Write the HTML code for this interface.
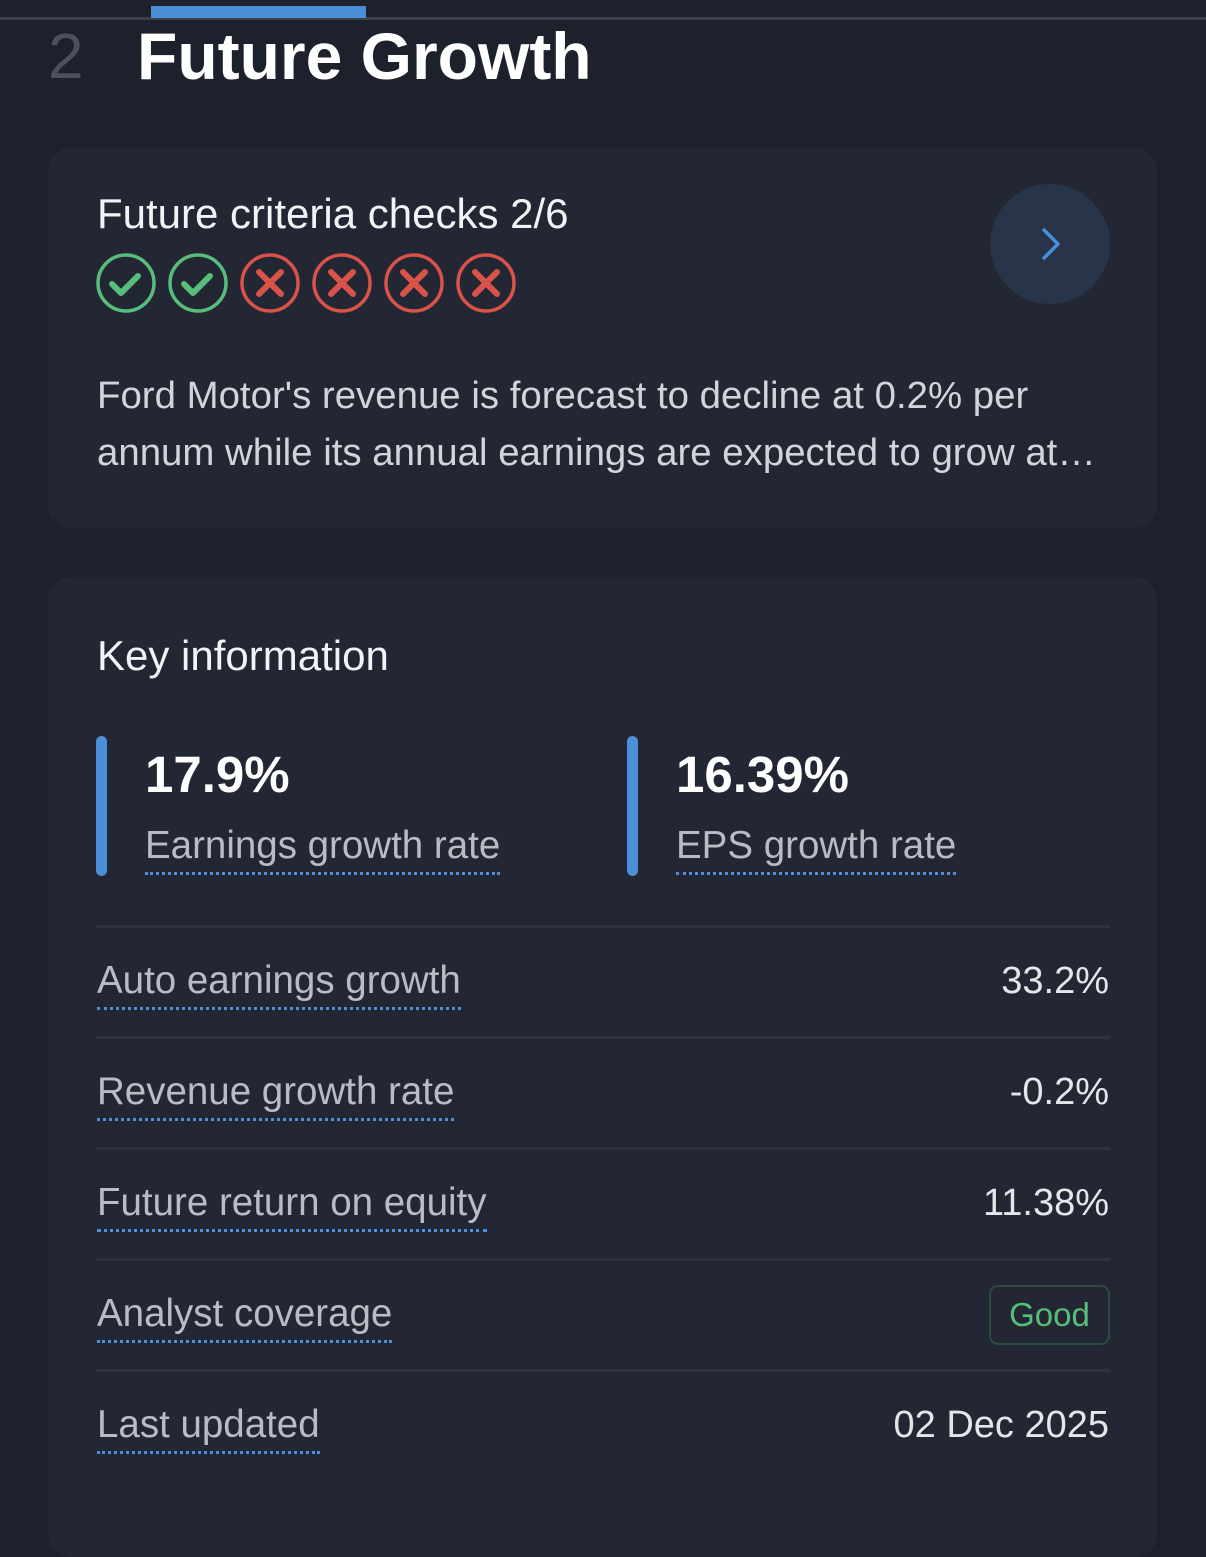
<!DOCTYPE html>
<html><head><meta charset="utf-8"><style>
body{margin:0;width:1206px;height:1509px;background:#1d212b;font-family:"Liberation Sans",sans-serif;position:relative;overflow:hidden;color:#fff}
.a{position:absolute;white-space:nowrap}
.card{position:absolute;background:#222733;border-radius:22px}
.lbl{color:#b9bcc4;font-size:38.5px;border-bottom:3px dotted #4a8fd8;line-height:40px;padding-bottom:6px}
.val{color:#e4e6ea;font-size:38px;right:97px;line-height:40px}
.sep{position:absolute;left:96px;width:1014px;height:3px;background:#2e333e}
.bar{position:absolute;width:11px;height:140px;background:#4a8fd8;border-radius:6px;top:736px}
</style></head><body>
<div class="a" style="left:0;top:17px;width:1206px;height:3px;background:#3a3f4a"></div>
<div class="a" style="left:151px;top:6px;width:215px;height:12px;background:#4a8fd8"></div>
<div class="a" style="left:48px;top:18px;font-size:64px;color:#4b505b;line-height:76px">2</div>
<div class="a" style="left:137px;top:16px;font-size:66px;font-weight:bold;line-height:80px">Future Growth</div>

<div class="card" style="left:48px;top:148px;width:1109px;height:380px"></div>
<div class="a" style="left:97px;top:192px;font-size:42px;line-height:44px;color:#f2f3f5">Future criteria checks 2/6</div>
<svg class="a" style="left:90px;top:248px" width="440" height="70">
<g fill="none" stroke-width="3.5" stroke-linecap="round" stroke-linejoin="round">
<circle cx="36" cy="35" r="28" stroke="#57bd7a"/><path d="M22 36l9 9 17-17" stroke="#57bd7a" stroke-width="6"/>
<circle cx="108" cy="35" r="28" stroke="#57bd7a"/><path d="M94 36l9 9 17-17" stroke="#57bd7a" stroke-width="6"/>
<g stroke="#d9534a"><circle cx="180" cy="35" r="28"/><path d="M169 24l22 22M191 24l-22 22" stroke-width="6"/>
<circle cx="252" cy="35" r="28"/><path d="M241 24l22 22M263 24l-22 22" stroke-width="6"/>
<circle cx="324" cy="35" r="28"/><path d="M313 24l22 22M335 24l-22 22" stroke-width="6"/>
<circle cx="396" cy="35" r="28"/><path d="M385 24l22 22M407 24l-22 22" stroke-width="6"/></g>
</g></svg>
<div class="a" style="left:990px;top:184px;width:120px;height:120px;border-radius:60px;background:#283449"></div>
<svg class="a" style="left:1030px;top:224px" width="40" height="40"><path d="M14 6l14 14-14 14" fill="none" stroke="#4a8fd8" stroke-width="3.5" stroke-linecap="round" stroke-linejoin="round"/></svg>
<div class="a" style="left:97px;top:367px;font-size:38.4px;line-height:57px;color:#d2d4da">Ford Motor's revenue is forecast to decline at 0.2% per<br>annum while its annual earnings are expected to grow at…</div>

<div class="card" style="left:48px;top:577px;width:1109px;height:980px"></div>
<div class="a" style="left:97px;top:633px;font-size:42px;line-height:46px;color:#f2f3f5">Key information</div>
<div class="bar" style="left:96px"></div>
<div class="bar" style="left:627px"></div>
<div class="a" style="left:145px;top:746px;font-size:51px;font-weight:bold;line-height:58px">17.9%</div>
<div class="a" style="left:676px;top:746px;font-size:51px;font-weight:bold;line-height:58px">16.39%</div>
<div class="a lbl" style="left:145px;top:826px">Earnings growth rate</div>
<div class="a lbl" style="left:676px;top:826px">EPS growth rate</div>

<div class="sep" style="top:925px"></div>
<div class="a lbl" style="left:97px;top:961px">Auto earnings growth</div>
<div class="a val" style="top:961px">33.2%</div>
<div class="sep" style="top:1036px"></div>
<div class="a lbl" style="left:97px;top:1072px">Revenue growth rate</div>
<div class="a val" style="top:1072px">-0.2%</div>
<div class="sep" style="top:1147px"></div>
<div class="a lbl" style="left:97px;top:1183px">Future return on equity</div>
<div class="a val" style="top:1183px">11.38%</div>
<div class="sep" style="top:1258px"></div>
<div class="a lbl" style="left:97px;top:1294px">Analyst coverage</div>
<div class="a" style="left:989px;top:1285px;width:117px;height:56px;border:2px solid #2d4a3e;border-radius:9px;color:#57bd7a;font-size:33px;line-height:56px;text-align:center">Good</div>
<div class="sep" style="top:1369px"></div>
<div class="a lbl" style="left:97px;top:1405px">Last updated</div>
<div class="a val" style="top:1405px">02 Dec 2025</div>
</body></html>
